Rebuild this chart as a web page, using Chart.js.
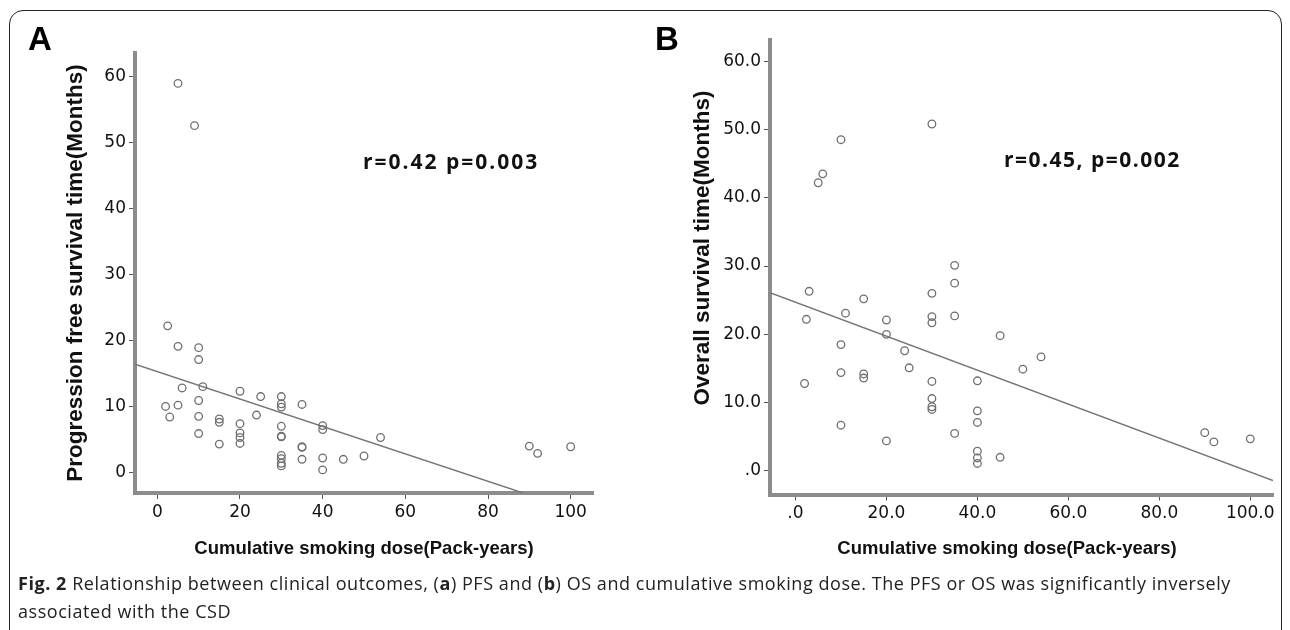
<!DOCTYPE html>
<html>
<head>
<meta charset="utf-8">
<script src="https://cdn.jsdelivr.net/npm/chart.js@4.4.1/dist/chart.umd.min.js"></script>
<style>
body{margin:0;width:1290px;height:630px;overflow:hidden;background:#fff;position:relative;font-family:"Liberation Sans",Arial,sans-serif;}
.frame{position:absolute;left:9px;top:10px;width:1271px;height:700px;border:1.5px solid #222;border-radius:14px;}
.panel{position:absolute;top:0;height:575px;}
#panelA{left:0;width:640px;}
#panelB{left:640px;width:650px;}
.caption{position:absolute;left:18px;top:569px;width:1265px;font-family:"Open Sans","Liberation Sans",sans-serif;font-size:18px;letter-spacing:0.55px;line-height:28px;color:#222;white-space:nowrap;}
</style>
</head>
<body>
<div class="frame"></div>
<div class="panel" id="panelA"><canvas id="pfsChart" width="640" height="575"></canvas></div>
<div class="panel" id="panelB"><canvas id="osChart" width="650" height="575"></canvas></div>
<div class="caption"><b>Fig. 2</b> Relationship between clinical outcomes, (<b>a</b>) PFS and (<b>b</b>) OS and cumulative smoking dose. The PFS or OS was significantly inversely<br>associated with the CSD</div>

<script>
// panel A - progression free survival vs cumulative smoking dose
var pfsDose = [5, 9, 2.5, 5, 10, 10, 6, 11, 2, 3,
	5, 10, 10, 10, 15, 15, 15, 20, 20, 20,
	20, 20, 24, 25, 30, 30, 30, 30, 30, 30,
	30, 30, 30, 30, 35, 35, 35, 35, 40, 40,
	40, 40, 45, 50, 54, 90, 92, 100];
var pfsMonths = [58.9, 52.5, 22.2, 19.1, 18.9, 17.1, 12.8, 13.0, 10.0, 8.4,
	10.2, 10.9, 8.5, 5.9, 8.1, 7.6, 4.3, 12.3, 7.4, 6.0,
	5.3, 4.4, 8.7, 11.5, 11.5, 10.4, 9.9, 7.0, 5.5, 5.4,
	2.6, 2.1, 1.4, 1.0, 10.3, 3.9, 3.8, 2.0, 7.1, 6.5,
	2.2, 0.4, 2.0, 2.5, 5.3, 4.0, 2.9, 3.9];
var pfsFitDose = [-5.4, 88.5];
var pfsFitMonths = [16.4, -3.1];
var pfsXTicks = [0, 20, 40, 60, 80, 100];
var pfsXTickLabels = ['0', '20', '40', '60', '80', '100'];
var pfsYTicks = [0, 10, 20, 30, 40, 50, 60];
var pfsYTickLabels = ['0', '10', '20', '30', '40', '50', '60'];

// panel B - overall survival vs cumulative smoking dose
var osDose = [30, 10, 6, 5, 3, 2.4, 2, 11, 10, 10,
	10, 15, 15, 15, 20, 20, 20, 24, 25, 30,
	30, 30, 30, 30, 30, 30, 35, 35, 35, 35,
	40, 40, 40, 40, 40, 40, 45, 45, 50, 54,
	90, 92, 100];
var osMonths = [50.8, 48.5, 43.5, 42.2, 26.3, 22.2, 12.8, 23.1, 18.5, 14.4,
	6.7, 25.2, 14.2, 13.6, 22.1, 20.0, 4.4, 17.6, 15.1, 26.0,
	22.6, 21.7, 13.1, 10.6, 9.4, 9.0, 30.1, 27.5, 22.7, 5.5,
	13.2, 8.8, 7.1, 2.9, 1.9, 1.1, 19.8, 2.0, 14.9, 16.7,
	5.6, 4.25, 4.7];
var osFitDose = [-5.6, 105];
var osFitMonths = [26.1, -1.4];
var osXTicks = [0, 20, 40, 60, 80, 100];
var osXTickLabels = ['.0', '20.0', '40.0', '60.0', '80.0', '100.0'];
var osYTicks = [0, 10, 20, 30, 40, 50, 60];
var osYTickLabels = ['.0', '10.0', '20.0', '30.0', '40.0', '50.0', '60.0'];

var FONT = '"Liberation Sans", Arial, sans-serif';
var TICKFONT = '"DejaVu Sans", sans-serif';
Chart.defaults.font.family = FONT;
Chart.defaults.animation = false;

// draws free text (panel letters, r/p values, shifted titles)
var panelText = {
	id: 'panelText',
	afterDraw: function(chart) {
		var items = chart.options.plugins.panelText.items || [];
		var ctx = chart.ctx;
		items.forEach(function(it) {
			ctx.save();
			ctx.font = it.font;
			ctx.fillStyle = it.color || '#111';
			ctx.textAlign = it.align || 'center';
			ctx.textBaseline = 'middle';
			if (it.spacing) ctx.letterSpacing = it.spacing;
			ctx.translate(it.x, it.y);
			if (it.rotate) ctx.rotate(it.rotate);
			ctx.fillText(it.text, 0, 0);
			ctx.restore();
		});
	}
};

function toPoints(xs, ys) {
	return xs.map(function(x, i) { return {x: x, y: ys[i]}; });
}

function axis(min, max, tickValues, tickLabels, fitSize, horizontal, title) {
	return {
		type: 'linear',
		min: min,
		max: max,
		afterBuildTicks: function(scale) {
			scale.ticks = tickValues.map(function(v) { return {value: v}; });
		},
		afterFit: function(scale) {
			if (horizontal) scale.height = fitSize;
			else scale.width = fitSize;
		},
		grid: {display: true, drawOnChartArea: false, drawTicks: true, tickLength: 6, color: '#555', lineWidth: 1},
		border: {display: true, color: '#8c8c8c', width: 4},
		ticks: {
			color: '#111',
			font: {size: 17, family: TICKFONT},
			padding: 3,
			maxRotation: 0,
			autoSkip: false,
			callback: function(v) {
				var i = tickValues.indexOf(v);
				return i >= 0 ? tickLabels[i] : '';
			}
		},
		title: title || {display: false}
	};
}

function makeChart(id, pts, fit, scales, padding, items) {
	return new Chart(document.getElementById(id), {
		type: 'scatter',
		data: {
			datasets: [{
				data: pts,
				pointRadius: 3.8,
				pointHoverRadius: 3.8,
				pointBorderColor: '#6e6e6e',
				pointBackgroundColor: 'rgba(0,0,0,0)',
				pointBorderWidth: 1.3
			}, {
				type: 'line',
				data: fit,
				showLine: true,
				borderColor: '#777',
				borderWidth: 1.4,
				pointRadius: 0,
				fill: false
			}]
		},
		options: {
			responsive: false,
			layout: {padding: padding},
			plugins: {
				legend: {display: false},
				tooltip: {enabled: false},
				panelText: {items: items}
			},
			scales: scales
		},
		plugins: [panelText]
	});
}

makeChart('pfsChart',
	toPoints(pfsDose, pfsMonths),
	toPoints(pfsFitDose, pfsFitMonths),
	{
		x: axis(-5.4, 105.4, pfsXTicks, pfsXTickLabels, 82, true,
			{display: true, text: 'Cumulative smoking dose(Pack-years)', color: '#111', font: {size: 18.5, weight: 'bold'}, padding: {top: 0, bottom: 15}}),
		y: axis(-3.1, 63.5, pfsYTicks, pfsYTickLabels, 135, false,
			{display: true, text: 'Progression free survival time(Months)', color: '#111', font: {size: 22.5, weight: 'bold'}, padding: {top: 62, bottom: 0}})
	},
	{left: 0, top: 53, right: 47, bottom: 0},
	[
		{text: 'A', x: 40, y: 41, font: 'bold 33px ' + FONT, color: '#000'},
		{text: 'r=0.42 p=0.003', x: 363, y: 163, align: 'left', spacing: '2px', font: 'bold 21px "Open Sans", sans-serif', color: '#111'}
	]
);

makeChart('osChart',
	toPoints(osDose, osMonths),
	toPoints(osFitDose, osFitMonths),
	{
		x: axis(-5.6, 105, osXTicks, osXTickLabels, 80.5, true),
		y: axis(-3.45, 63.1, osYTicks, osYTickLabels, 130, false)
	},
	{left: 0, top: 40, right: 17, bottom: 0},
	[
		{text: 'B', x: 27, y: 41, font: 'bold 33px ' + FONT, color: '#000'},
		{text: 'r=0.45, p=0.002', x: 364, y: 161, align: 'left', spacing: '1.5px', font: 'bold 21px "Open Sans", sans-serif', color: '#111'},
		{text: 'Overall survival time(Months)', x: 63, y: 248, rotate: -Math.PI / 2, font: 'bold 22.5px ' + FONT, color: '#111'},
		{text: 'Cumulative smoking dose(Pack-years)', x: 367, y: 549, font: 'bold 18.5px ' + FONT, color: '#111'}
	]
);
</script>
</body>
</html>
